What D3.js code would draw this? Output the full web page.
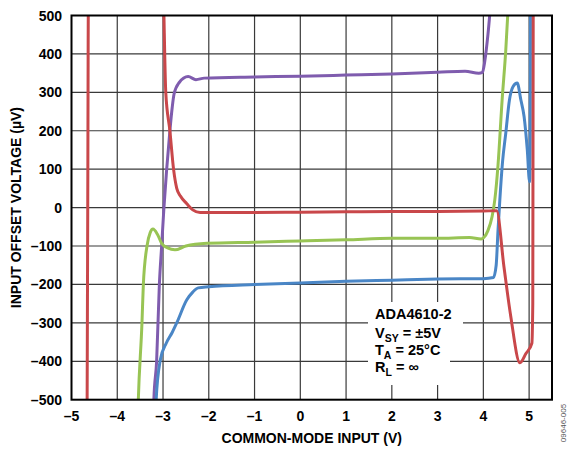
<!DOCTYPE html>
<html>
<head>
<meta charset="utf-8">
<script src="https://cdn.jsdelivr.net/npm/d3@7"></script>
<style>
  html, body { margin: 0; padding: 0; background: #fff; }
  svg { display: block; }
  text { font-family: "Liberation Sans", Arial, sans-serif; font-weight: bold; }
</style>
</head>
<body>
<svg id="chart" width="567" height="451"></svg>
<script>
// ---- data ----
const xTicks = [-5, -4, -3, -2, -1, 0, 1, 2, 3, 4, 5];
const xTickLabels = ["–5", "–4", "–3", "–2", "–1", "0", "1", "2", "3", "4", "5"];
const yTicks = [-500, -400, -300, -200, -100, 0, 100, 200, 300, 400, 500];
const yTickLabels = ["–500", "–400", "–300", "–200", "–100", "0", "100", "200", "300", "400", "500"];

const redX = [-4.66, -4.645, -4.63, -2.99, -2.98, -2.94, -2.85, -2.77, -2.70, -2.62, -2.48, -2.35, -2.19, -1, 0, 1, 2, 3, 4, 4.29, 4.45, 4.6, 4.8, 4.93, 5.06, 5.08, 5.09];
const redY = [-560, 0, 560, 560, 500, 300, 200, 100, 50, 30, 10, -6, -13, -13, -12, -11, -10, -10, -9, -8, -154, -284, -404, -380, -353, -250, 560];

const purpleX = [-3.215, -3.2, -3.14, -3.08, -3.03, -2.98, -2.92, -2.85, -2.8, -2.76, -2.65, -2.45, -2.28, -2.1, -1, 0, 1, 2, 3, 3.6, 3.9, 3.98, 4.03, 4.1, 4.18];
const purpleY = [-560, -500, -400, -200, -100, 0, 100, 200, 260, 295, 325, 341, 333, 337, 340, 342, 345, 348, 352, 355, 350, 352, 380, 450, 560];

const greenX = [-3.555, -3.54, -3.46, -3.43, -3.35, -3.28, -3.22, -3.12, -3.03, -2.9, -2.74, -2.5, -2.04, -1, 0, 1, 2, 3, 3.7, 3.95, 4.01, 4.1, 4.19, 4.25, 4.32, 4.41, 4.49, 4.56];
const greenY = [-560, -500, -300, -200, -100, -65, -56, -70, -93, -105, -110, -100, -93, -90, -87, -84, -80, -80, -78, -82, -78, -60, -24, 20, 110, 280, 410, 560];

const blueX = [-3.165, -3.15, -3.06, -2.93, -2.80, -2.70, -2.48, -2.35, -2.23, -2.0, -1, 0, 1, 2, 3, 4, 4.22, 4.28, 4.32, 4.36, 4.42, 4.49, 4.57, 4.65, 4.74, 4.82, 4.89, 4.96, 5.01, 5.025, 5.03];
const blueY = [-560, -500, -397, -353, -325, -300, -240, -220, -209, -206, -200, -196, -192, -189, -186, -185, -182, -150, -60, 20, 120, 194, 280, 315, 324, 280, 237, 150, 67, 200, 560];

const seriesNames = ["red", "purple", "green", "blue"];
const seriesColors = ["#c9474a", "#7f5cae", "#98c454", "#4a86c6"];

// ---- layout ----
const svg = d3.select("#chart");
const L = 71.5, T = 15.5, R = 552, B = 399.7;
const x = d3.scaleLinear().domain([-5, 5.5]).range([L, R]);
const y = d3.scaleLinear().domain([-500, 500]).range([B, T]);

svg.append("defs").append("clipPath").attr("id", "plotclip")
  .append("rect").attr("x", L).attr("y", T).attr("width", R - L).attr("height", B - T);

// grid
const grid = svg.append("g");
grid.selectAll("line.v").data(xTicks.filter(d => d > -5)).enter().append("line")
  .attr("x1", d => x(d)).attr("x2", d => x(d)).attr("y1", T).attr("y2", B)
  .attr("stroke", "#3a3a3a").attr("stroke-width", 1.2);
grid.selectAll("line.h").data(yTicks.filter(d => d > -500 && d < 500)).enter().append("line")
  .attr("x1", L).attr("x2", R).attr("y1", d => y(d)).attr("y2", d => y(d))
  .attr("stroke", "#3a3a3a").attr("stroke-width", 1.2);

// annotation background
svg.append("rect").attr("x", 368).attr("y", 302).attr("width", 95).attr("height", 52).attr("fill", "#fff");
svg.append("rect").attr("x", 368).attr("y", 354).attr("width", 82).attr("height", 31).attr("fill", "#fff");

// series
const seriesX = [redX, purpleX, greenX, blueX];
const seriesY = [redY, purpleY, greenY, blueY];
const line = d3.line().x(d => x(d[0])).y(d => y(d[1])).curve(d3.curveMonotoneX);
const plot = svg.append("g").attr("clip-path", "url(#plotclip)");
// draw order: purple, green, blue, red on top
[1, 2, 3, 0].forEach(i => {
  const pts = seriesX[i].map((v, k) => [v, seriesY[i][k]]);
  plot.append("path").attr("d", line(pts)).attr("fill", "none")
    .attr("stroke", seriesColors[i]).attr("stroke-width", 3)
    .attr("stroke-linejoin", "round").attr("stroke-linecap", "round");
});

// frame
svg.append("rect").attr("x", L).attr("y", T).attr("width", R - L).attr("height", B - T)
  .attr("fill", "none").attr("stroke", "#000").attr("stroke-width", 2);

// axis labels
svg.append("g").selectAll("text").data(xTicks).enter().append("text")
  .attr("x", d => x(d)).attr("y", 421).attr("text-anchor", "middle")
  .attr("font-size", 14).attr("fill", "#000")
  .text((d, i) => xTickLabels[i]);
svg.append("g").selectAll("text").data(yTicks).enter().append("text")
  .attr("x", 62).attr("y", d => y(d) + 5).attr("text-anchor", "end")
  .attr("font-size", 14).attr("fill", "#000")
  .text((d, i) => yTickLabels[i]);

svg.append("text").attr("x", (L + R) / 2).attr("y", 443).attr("text-anchor", "middle")
  .attr("font-size", 14).text("COMMON-MODE INPUT (V)");
svg.append("text").attr("transform", `translate(21,${(T + B) / 2}) rotate(-90)`)
  .attr("text-anchor", "middle").attr("font-size", 14).text("INPUT OFFSET VOLTAGE (µV)");

svg.append("text").attr("transform", "translate(566,423) rotate(-90)")
  .attr("text-anchor", "middle").attr("font-size", 8).attr("font-weight", "normal")
  .attr("fill", "#555").style("font-weight", "normal").text("09646-005");

// annotation
const ann = svg.append("g").attr("font-size", 14.5);
ann.append("text").attr("x", 375).attr("y", 319).text("ADA4610-2");
const l2 = ann.append("text").attr("x", 375).attr("y", 338);
l2.append("tspan").text("V");
l2.append("tspan").attr("font-size", 10.5).attr("dy", 4).text("SY");
l2.append("tspan").attr("dy", -4).text(" = ±5V");
const l3 = ann.append("text").attr("x", 375).attr("y", 355);
l3.append("tspan").text("T");
l3.append("tspan").attr("font-size", 10.5).attr("dy", 4).text("A");
l3.append("tspan").attr("dy", -4).text(" = 25°C");
const l4 = ann.append("text").attr("x", 375).attr("y", 372);
l4.append("tspan").text("R");
l4.append("tspan").attr("font-size", 10.5).attr("dy", 4).text("L");
l4.append("tspan").attr("dy", -4).text(" = ∞");
</script>
</body>
</html>
